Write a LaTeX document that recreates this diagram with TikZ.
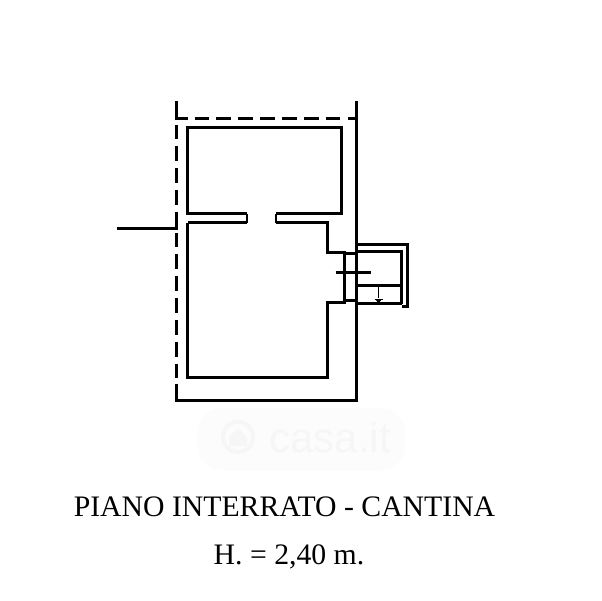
\documentclass[tikz,border=0pt]{standalone}
\usepackage{fontspec}
\setmainfont{Liberation Serif}
\newfontfamily\marksans{Liberation Sans}
\definecolor{wm}{gray}{0.965}
\definecolor{wmbg}{gray}{0.988}
\tikzset{
  wall/.style={line width=2.25pt,line cap=butt,line join=miter,black},
  thinwall/.style={line width=1.5pt,line join=miter,black},
  perim/.style={line width=2.25pt,black},
  perimdash/.style={line width=2.25pt,black,dash pattern=on 11pt off 5.4pt},
  caption/.style={font=\fontsize{22.3pt}{26pt}\selectfont,text=black,inner sep=0pt,anchor=base},
  watermark/.style={font=\marksans\fontsize{31.5pt}{34pt}\selectfont,text=wm,inner sep=0pt}
}
\begin{document}
\begin{tikzpicture}[x=0.75pt,y=-0.75pt]
\useasboundingbox (0,0) rectangle (602,600);
\fill[white] (0,0) rectangle (602,600);
% watermark
\fill[wmbg,rounded corners=18pt] (198,408) rectangle (405,470);
\draw[wm,line width=3pt] (238,437) circle (15);
\fill[wm] (229,437) -- (238,428) -- (247,437) -- (247,446) -- (229,446) -- cycle;
\node[watermark] (mark) at (330,437) {casa.it};
\begin{scope}[shift={(-0.5,-0.5)}]
% perimeter
\coordinate (ptl) at (177,119);
\coordinate (ptt) at (177,101);
\coordinate (ptr) at (357,119);
\coordinate (prt) at (357,101);
\coordinate (prb) at (357,401);
\coordinate (pbl) at (177,401);
\coordinate (pbs) at (177,384);
\coordinate (pls) at (177,215);
\coordinate (stub) at (117,229);
\coordinate (stube) at (177,229);
\draw[perim] (ptt) -- (ptl) -- (188,119);
\draw[perimdash] (195,119) -- (ptr);
\draw[perimdash] (177,125) -- (pls);
\draw[perim] (stub) -- (stube) -- (pls);
\draw[perimdash] (177,233) -- (177,379);
\draw[perim] (pbs) -- (pbl) -- (prb) -- (prt);
% upper room
\draw[wall] (247,214) -- (188,214) -- (188,128) -- (342,128) -- (342,214) -- (276,214);
\draw[thinwall] (247,214) -- (247,223);
\draw[wall] (247,223) -- (188,223);
\draw[thinwall] (276,214) -- (276,223);
% lower room
\draw[wall] (188,223) -- (188,378) -- (328,378) -- (328,303) -- (345,303) -- (345,253) -- (328,253) -- (328,223) -- (276,223);
\draw[wall] (345,254) -- (357,254);
\draw[wall] (345,301) -- (357,301);
% cross mark
\draw[wall] (336,273) -- (371,273);
\draw[wall] (357,269) -- (357,278);
% stair
\draw[wall] (357,245) -- (408,245) -- (408,307) -- (402,307);
\draw[wall] (357,252) -- (402,252) -- (402,304);
\draw[wall] (357,304) -- (402,304);
\draw[wall] (357,286) -- (402,286);
\draw[line width=1.2pt] (379,286) -- (379,298);
\fill (376,300) -- (382,300) -- (379,304) -- cycle;
\draw[line width=1.2pt] (375,300) -- (383,300);
\end{scope}
% captions
\node[caption] (title) at (284.5,516) {PIANO INTERRATO - CANTINA};
\node[caption] (height) at (289,564) {H. = 2,40 m.};
\end{tikzpicture}
\end{document}
